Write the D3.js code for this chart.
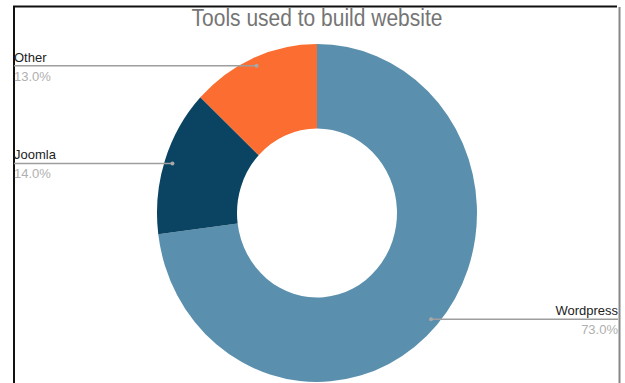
<!DOCTYPE html>
<html>
<head>
<meta charset="utf-8">
<script src="https://cdn.jsdelivr.net/npm/d3@7"></script>
<style>
  body { margin: 0; background: #fff; }
  svg { display: block; font-family: Arial, "Liberation Sans", sans-serif; }
</style>
</head>
<body>
<svg id="chart"></svg>
<script>
const categories = ["Wordpress", "Joomla", "Other"];
const shares = [73.0, 14.0, 13.0];
const colors = ["#5a90ae", "#0b4462", "#fb6d30"];

const width = 625, height = 383;
const cx = 317, cy = 213;
const outerR = 160, innerR = 80;
const squash = 1.056; // reference is stretched a bit vertically

const svg = d3.select("#chart")
    .attr("width", width)
    .attr("height", height);

// frame
svg.append("line").attr("x1", 14).attr("x2", 14).attr("y1", 6.5).attr("y2", height)
    .attr("stroke", "#111").attr("stroke-width", 2);
svg.append("line").attr("x1", 13).attr("x2", 617).attr("y1", 6.5).attr("y2", 6.5)
    .attr("stroke", "#111").attr("stroke-width", 2);
svg.append("line").attr("x1", 619.5).attr("x2", 619.5).attr("y1", 7).attr("y2", height)
    .attr("stroke", "#888").attr("stroke-width", 2);

svg.append("text")
    .attr("transform", `translate(${cx}, 26) scale(1, 1.12)`)
    .attr("text-anchor", "middle")
    .attr("font-size", "21px")
    .attr("fill", "#757575")
    .text("Tools used to build website");

const data = categories.map((c, i) => ({ name: c, value: shares[i], color: colors[i] }));

const pie = d3.pie().value(d => d.value).sort(null);
const arc = d3.arc().innerRadius(innerR).outerRadius(outerR);
const arcs = pie(data);

const g = svg.append("g")
    .attr("transform", `translate(${cx}, ${cy}) scale(1, ${squash})`);

g.selectAll("path")
    .data(arcs)
    .join("path")
    .attr("d", arc)
    .attr("fill", d => d.data.color);

// leader lines + labels
const dotR = outerR * 0.95;
const dotPos = d => {
    const a = (d.startAngle + d.endAngle) / 2;
    return [cx + Math.sin(a) * dotR, cy - Math.cos(a) * dotR * squash];
};

const labels = svg.append("g");
arcs.forEach(d => {
    const [x, y] = dotPos(d);
    const right = x > cx;
    const edge = right ? 618 : 14;
    labels.append("line")
        .attr("x1", x).attr("x2", edge)
        .attr("y1", y).attr("y2", y)
        .attr("stroke", "#9e9e9e").attr("stroke-width", 1.5);
    labels.append("circle")
        .attr("cx", x).attr("cy", y).attr("r", 2)
        .attr("fill", "#a8a8a8");
    labels.append("text")
        .attr("x", edge)
        .attr("y", y - 4)
        .attr("text-anchor", right ? "end" : "start")
        .attr("font-size", "13px")
        .attr("fill", "#222")
        .text(d.data.name);
    labels.append("text")
        .attr("x", edge)
        .attr("y", y + 15)
        .attr("text-anchor", right ? "end" : "start")
        .attr("font-size", "13px")
        .attr("fill", "#b0b0b0")
        .text(d.data.value.toFixed(1) + "%");
});
</script>
</body>
</html>
